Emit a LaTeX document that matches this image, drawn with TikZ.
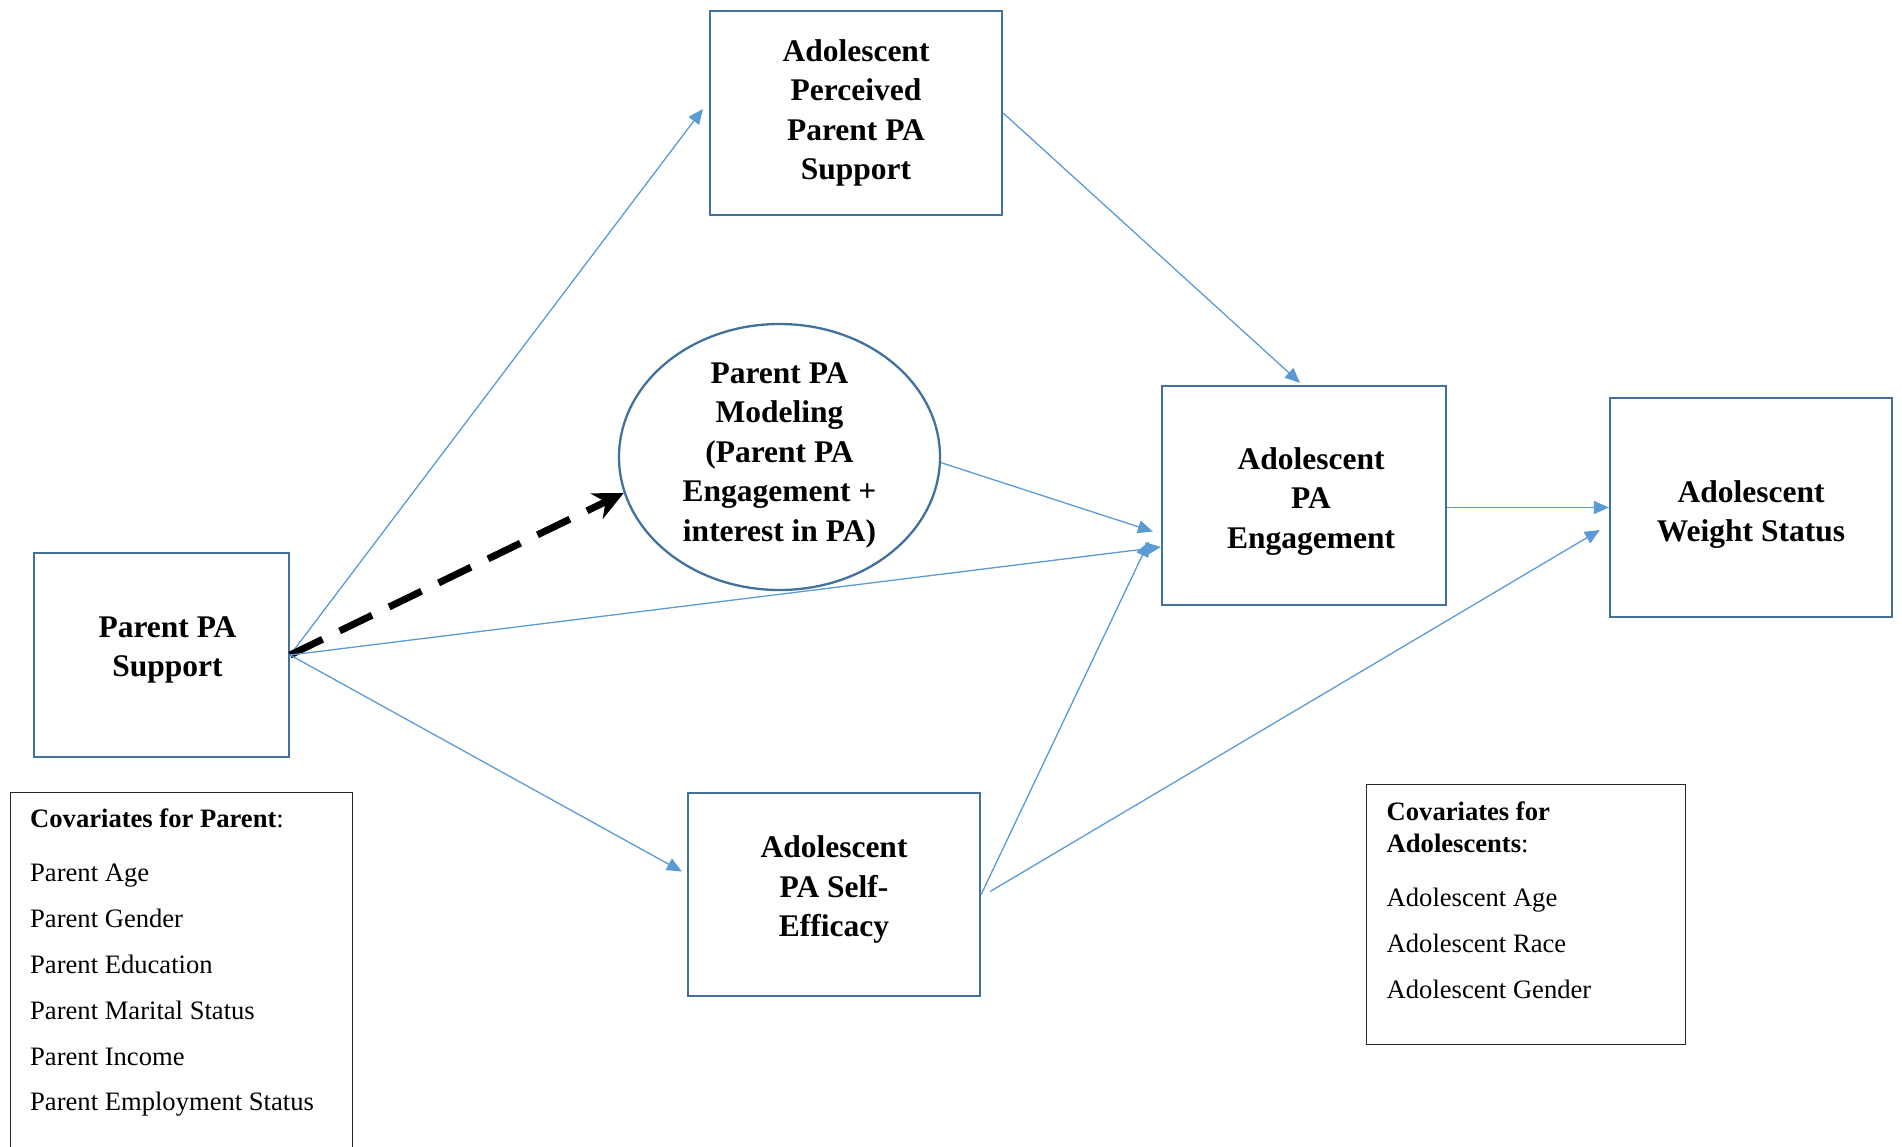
\documentclass[tikz,border=0pt]{standalone}
\usepackage{fontspec}
\setmainfont{Liberation Serif}
\usetikzlibrary{positioning, shapes.geometric, arrows.meta, calc}
\definecolor{BoxBlue}{RGB}{65, 113, 156}
\definecolor{ArrowBlue}{RGB}{91, 155, 213}
\definecolor{CovGray}{RGB}{40, 40, 40}

\begin{document}
\begin{tikzpicture}[
    x=1pt, y=-1pt,
    every node/.style={align=center},
    varbox/.style={draw=BoxBlue, line width=2.3pt, rectangle, inner sep=0pt},
    vartext/.style={inner sep=0pt, font=\fontsize{31.5}{39.5}\selectfont\bfseries},
    varoval/.style={draw=BoxBlue, line width=2.3pt, ellipse, inner sep=0pt},
    covbox/.style={draw=CovGray, line width=1.1pt, rectangle, inner sep=0pt},
    covtext/.style={align=left, inner sep=0pt, font=\fontsize{26.6}{31.5}\selectfont},
    effect/.style={draw=ArrowBlue, line width=1.3pt, -{Triangle[length=15pt, width=13pt]}},
    modeffect/.style={draw=black, line width=7pt, dash pattern=on 36pt off 19pt, -{Stealth[length=30pt, width=28pt]}}
  ]
    \useasboundingbox (0,0) rectangle (1902,1146);

    \node[varbox, minimum width=255pt, minimum height=204pt] (support) at (161.5,655) {};
    \node[vartext] (supporttext) at ($(support)+(6,-5)$) {Parent PA\\Support};
    \node[varbox, minimum width=292pt, minimum height=204pt] (perceived) at (856,113) {};
    \node[vartext] (perceivedtext) at (perceived) {Adolescent\\Perceived\\Parent PA\\Support};
    \node[varoval, minimum width=321pt, minimum height=266pt] (modeling) at (779.5,457) {};
    \node[vartext] (modelingtext) at ($(modeling)+(0,-2)$) {Parent PA\\Modeling\\(Parent PA\\Engagement +\\interest in PA)};
    \node[varbox, minimum width=284pt, minimum height=219pt] (engagement) at (1304,495.5) {};
    \node[vartext] (engagementtext) at ($(engagement)+(7,6)$) {Adolescent\\PA\\Engagement};
    \node[varbox, minimum width=282pt, minimum height=219pt] (weight) at (1751,507.5) {};
    \node[vartext] (weighttext) at ($(weight)+(0,7)$) {Adolescent\\Weight Status};
    \node[varbox, minimum width=292pt, minimum height=203pt] (efficacy) at (834,894.5) {};
    \node[vartext] (efficacytext) at ($(efficacy)+(0,-5)$) {Adolescent\\PA Self-\\Efficacy};

    \node[covbox, anchor=north west, minimum width=342pt, minimum height=370pt] (parentbox) at (10,792) {};
    \node[covtext, anchor=north west] (parentcov) at (30,808.5) {\textbf{Covariates for Parent}:\\[23pt]
      Parent Age\\[14.3pt] Parent Gender\\[14.3pt] Parent Education\\[14.3pt]
      Parent Marital Status\\[14.3pt] Parent Income\\[14.3pt] Parent Employment Status};
    \node[covbox, anchor=north west, minimum width=319pt, minimum height=260pt] (adolbox) at (1366,784) {};
    \node[covtext, anchor=north west] (adolcov) at (1386.5,802) {\textbf{Covariates for}\\\textbf{Adolescents}:\\[23pt]
      Adolescent Age\\[14.5pt] Adolescent Race\\[14.5pt] Adolescent Gender};

    \draw[effect] (support.east) -- ($(perceived.west)+(-6,-4)$);
    \draw[modeffect] (support.east) -- (modeling.193);
    \draw[effect] (support.east) -- ($(engagement.west)+(0,51.5)$);
    \draw[effect] (support.east) -- ($(efficacy.west)+(-5,-23)$);
    \draw[effect] (perceived.east) -- ($(engagement.north)+(-4,-2)$);
    \draw[effect] (modeling.358) -- ($(engagement.west)+(-8,36)$);
    \draw[effect] (efficacy.east) -- ($(engagement.west)+(-12,46)$);
    \draw[effect] ($(efficacy.east)+(9,-3)$) -- ($(weight.west)+(-9,22.5)$);
    \draw[effect] (engagement.east |- weight.west) -- (weight.west);
  \end{tikzpicture}
\end{document}
